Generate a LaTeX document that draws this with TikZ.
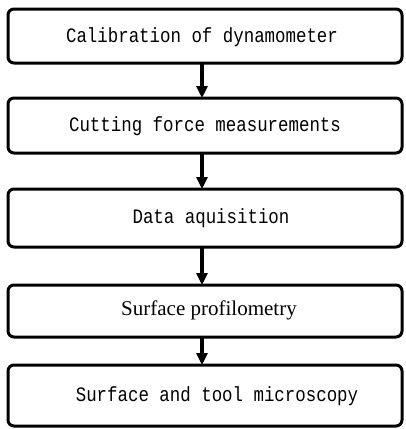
\documentclass[tikz,border=0pt]{standalone}
\usepackage{fontspec}
\usetikzlibrary{arrows.meta}
\newfontfamily\stepmono[FakeStretch=0.85]{Liberation Mono}
\newfontfamily\stepserif{Liberation Serif}
\tikzset{
  stagebox/.style={draw=black, line width=3pt, rounded corners=6pt},
  stagetext/.style={font=\stepmono\fontsize{20.5}{24}\selectfont, inner sep=0pt},
  stageserif/.style={font=\stepserif\fontsize{21}{24}\selectfont, inner sep=0pt},
  flow/.style={line width=3.5pt, -{Triangle[width=11pt,length=12pt]}, shorten >=0pt}
}
\begin{document}
\begin{tikzpicture}[x=1pt, y=-1pt]
  \useasboundingbox (0,0) rectangle (405,429);
  % stage frames
  \draw[stagebox] (8,9) rectangle (402,63);
  \draw[stagebox] (8,98) rectangle (402,153);
  \draw[stagebox] (8,189) rectangle (402,247);
  \draw[stagebox] (8,285) rectangle (402,337);
  \draw[stagebox] (8,365) rectangle (402,426);
  % anchors on the frames
  \coordinate (b1) at (202,63);  \coordinate (t2) at (202,98);
  \coordinate (b2) at (202,153); \coordinate (t3) at (202,189);
  \coordinate (b3) at (202,247); \coordinate (t4) at (202,285);
  \coordinate (b4) at (202,337); \coordinate (t5) at (202,365);
  % stage labels
  \node[stagetext] (s1) at (202,37) {Calibration of dynamometer};
  \node[stagetext] (s2) at (205,126) {Cutting force measurements};
  \node[stagetext] (s3) at (211,218) {Data aquisition};
  \node[stageserif] (s4) at (209,310) {Surface profilometry};
  \node[stagetext] (s5) at (217,396) {Surface and tool microscopy};
  % flow arrows
  \draw[flow] (b1) -- (t2);
  \draw[flow] (b2) -- (t3);
  \draw[flow] (b3) -- (t4);
  \draw[flow] (b4) -- (t5);
\end{tikzpicture}
\end{document}
